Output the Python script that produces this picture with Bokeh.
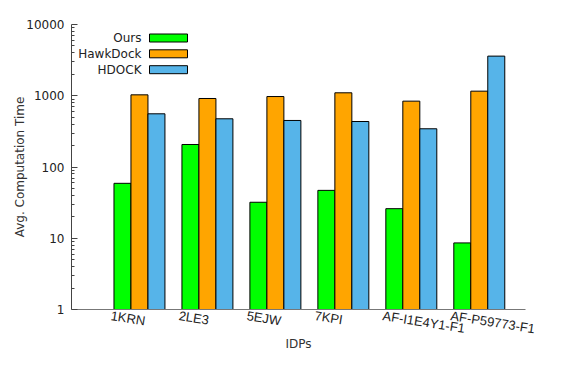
from bokeh.plotting import figure
from bokeh.models import Range1d, FixedTicker, NumeralTickFormatter, BoxAnnotation, Label, ColumnDataSource
from bokeh.embed import file_html
from bokeh.resources import INLINE

categories = ["1KRN", "2LE3", "5EJW", "7KPI", "AF-I1E4Y1-F1", "AF-P59773-F1"]
ours = [59, 207, 32, 47, 26, 8.6]
hawkdock = [1030, 915, 975, 1100, 840, 1160]
hdock = [558, 475, 450, 435, 344, 3600]
series_names = ["Ours", "HawkDock", "HDOCK"]
colors = ["#00ff00", "#ffa500", "#56b4e9"]
y_ticks = [1, 10, 100, 1000, 10000]

FONT = "DejaVu Sans"
XFONT = "Liberation Sans"
p = figure(width=576, height=368, output_backend="svg", toolbar_location=None,
           y_axis_type="log", x_range=Range1d(0, 6.68), y_range=Range1d(1, 10000),
           min_border_left=71, min_border_right=51, min_border_top=24, min_border_bottom=59)
p.outline_line_color = None
p.grid.visible = False
p.background_fill_color = "white"
p.border_fill_color = "white"

centers = list(range(1, len(categories) + 1))
bw = 0.25
series = [ours, hawkdock, hdock]
for k, (vals, col) in enumerate(zip(series, colors)):
    xs = [c + (k - 1) * bw for c in centers]
    src = ColumnDataSource(dict(x=xs, top=vals, bottom=[1] * len(vals)))
    p.vbar(x="x", top="top", bottom="bottom", width=bw, source=src,
           fill_color=col, line_color="black", line_width=1)

# y axis
ya = p.yaxis[0]
minor = [m * d for d in [1, 10, 100, 1000] for m in range(2, 10)]
ya.ticker = FixedTicker(ticks=y_ticks, minor_ticks=minor)
ya.formatter = NumeralTickFormatter(format="0")
ya.major_tick_in = 6
ya.major_tick_out = 0
ya.minor_tick_in = 3
ya.minor_tick_out = 0
ya.axis_line_color = "#444444"
ya.major_tick_line_color = "#444444"
ya.minor_tick_line_color = "#444444"
ya.major_label_text_font = FONT
ya.major_label_text_font_size = "12px"
ya.major_label_text_color = "#222222"
ya.major_label_standoff = 7
ya.axis_label = "Avg. Computation Time"
ya.axis_label_text_font = FONT
ya.axis_label_text_font_size = "12px"
ya.axis_label_text_font_style = "normal"
ya.axis_label_text_color = "#333333"
ya.axis_label_standoff = -4

# x axis
xa = p.xaxis[0]
offset = 0.42
xa.ticker = FixedTicker(ticks=[c - offset for c in centers])
xa.major_label_overrides = {c - offset: name for c, name in zip(centers, categories)}
xa.major_label_orientation = -0.157
xa.major_tick_in = 0
xa.major_tick_out = 0
xa.minor_tick_in = 0
xa.minor_tick_out = 0
xa.axis_line_color = "#777777"
xa.major_label_text_font = XFONT
xa.major_label_text_font_size = "13px"
xa.major_label_text_color = "#222222"
xa.major_label_standoff = 6
xa.axis_label = "IDPs"
xa.axis_label_text_font = FONT
xa.axis_label_text_font_size = "12px"
xa.axis_label_text_font_style = "normal"
xa.axis_label_text_color = "#333333"
xa.axis_label_standoff = -10

# legend (label left, swatch right), screen units relative to frame
sw_left, sw_right = 78, 116
row_tops = [275.5, 259.7, 243.8]
sw_h = 8
for name, col, top in zip(series_names, colors, row_tops):
    p.add_layout(BoxAnnotation(left=sw_left, right=sw_right, top=top, bottom=top - sw_h,
                               left_units="screen", right_units="screen",
                               top_units="screen", bottom_units="screen",
                               fill_color=col, fill_alpha=1, line_color="black",
                               line_width=1, line_alpha=1))
    p.add_layout(Label(x=70, y=top - sw_h / 2, x_units="screen", y_units="screen",
                       text=name, text_align="right", text_baseline="middle",
                       text_font=FONT, text_font_size="12px", text_color="#222222"))

open("out.html", "w").write(file_html(p, INLINE))
